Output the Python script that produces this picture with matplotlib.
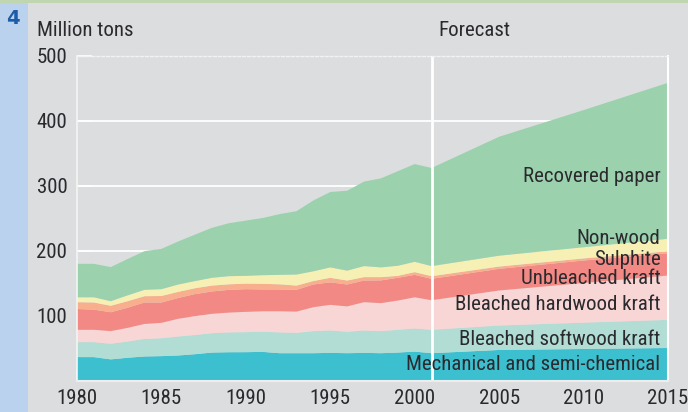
import matplotlib
matplotlib.use("Agg")
import matplotlib.pyplot as plt
from matplotlib.patches import Rectangle

years = [1980, 1981, 1982, 1983, 1984, 1985, 1986, 1987, 1988, 1989, 1990,
         1991, 1992, 1993, 1994, 1995, 1996, 1997, 1998, 1999, 2000, 2001,
         2005, 2010, 2015]

mechanical = [36, 36, 32.5, 35, 37, 37.5, 38.5, 40.5, 43, 43.5, 43.6,
              44, 42, 42, 42, 42.5, 42, 42.5, 42, 43, 44.5, 42,
              47, 48.5, 50]
softwood = [23, 23, 24, 25, 27, 27.5, 29.2, 29.5, 29.8, 30.5, 30.8,
            31, 32, 31.3, 34, 34.5, 33, 34.5, 34, 35, 35.5, 36,
            37.6, 40.5, 43.3]
hardwood = [19, 19, 19.5, 21, 23, 23.7, 27.3, 29, 29.8, 30.5, 31.2,
            31.5, 32.5, 32.7, 36.8, 39.4, 39, 43.5, 43, 45, 48, 45.5,
            53.9, 61, 68.2]
unbleached = [32, 31, 29, 31, 33, 31.3, 32, 34, 34.4, 35, 34.9,
              33.5, 33.5, 33.5, 34.9, 34.6, 33.7, 33.3, 35, 35, 34.5, 32.9,
              33.3, 34.6, 34.3]
sulphite = [10.5, 11, 10, 10, 9.7, 10, 9.4, 9, 9, 8.5, 8.5,
            8.7, 8, 6.5, 5.3, 7, 6.1, 5.2, 5, 3, 4.2, 4.1,
            3.5, 3.2, 3]
nonwood = [7.5, 8, 7, 9, 9.8, 10.5, 11.3, 11, 12, 12.5, 12,
           13.3, 14.5, 17, 15, 16, 15.2, 17, 15, 15.5, 15.9, 15.5,
           16.7, 17.2, 19.2]
recovered = [51.5, 51.5, 52.5, 56, 59.5, 62, 66.3, 71.5, 77, 81.5, 85,
             88, 93.5, 97.5, 109, 116, 123, 130, 137, 145.5, 150.4, 151,
             183, 211, 240]

series_labels = ["Mechanical and semi-chemical", "Bleached softwood kraft",
                 "Bleached hardwood kraft", "Unbleached kraft", "Sulphite",
                 "Non-wood", "Recovered paper"]
label_y = [15.4, 55, 108, 149, 178, 210, 305]
colors = ["#3CC0CF", "#B1DDD5", "#F8D6D5", "#F38985", "#F8AF8E", "#F7F0B4", "#9BD2AD"]

y_ticks = [100, 200, 300, 400, 500]
x_major = [1980, 1985, 1990, 1995, 2000, 2005, 2010, 2015]
forecast_year = 2001

FONT = ["Liberation Sans Narrow", "Roboto Condensed", "DejaVu Sans"]
plt.rcParams["font.family"] = FONT
TXT = "#2A2A2E"
BG = "#DCDDDF"
FS = 15

fig = plt.figure(figsize=(6.88, 4.12), dpi=100, facecolor=BG)
fig.patches.append(Rectangle((0, 0), 28 / 688, 1, transform=fig.transFigure,
                             facecolor="#BBD2EE", edgecolor="none", zorder=0))
fig.patches.append(Rectangle((0, 1 - 3 / 412), 1, 3 / 412, transform=fig.transFigure,
                             facecolor="#BFD6B0", edgecolor="none", zorder=0))
fig.text(13 / 688, 1 - 19 / 412, "4", color="#1D5CA8", fontsize=14,
         fontweight="bold", ha="center", va="center", family=["DejaVu Sans"])

ax = fig.add_axes([77 / 688, 1 - 380.5 / 412, 591 / 688, 325 / 412])
ax.set_facecolor(BG)

ax.stackplot(years, mechanical, softwood, hardwood, unbleached, sulphite,
             nonwood, recovered, colors=colors, linewidth=0, zorder=2)

ax.set_xlim(1980, 2015)
ax.set_ylim(0, 500)

for v in y_ticks[:-1]:
    ax.axhline(v, color="white", lw=1.3, zorder=1)
ax.axvline(forecast_year, color="white", lw=2, zorder=4)

ax.set_yticks(y_ticks)
ax.set_yticklabels([str(v) for v in y_ticks])
ax.set_xticks(x_major)
ax.set_xticklabels([str(v) for v in x_major])
ax.set_xticks(range(1980, 2016), minor=True)
ax.tick_params(axis="y", direction="in", length=11, width=1.3, color="white",
               pad=7, labelsize=FS, labelcolor=TXT)
ax.tick_params(axis="x", which="major", direction="in", length=8, width=1.3,
               color="white", pad=6, labelsize=FS, labelcolor=TXT)
ax.tick_params(axis="x", which="minor", direction="in", length=3.5, width=1.1,
               color="white")
for t in ax.get_xticklines() + ax.get_yticklines() + ax.xaxis.get_minorticklines():
    t.set_zorder(5)

ax.spines["top"].set_color("#F2F2F2")
ax.spines["top"].set_linestyle((0, (2, 1.5)))
ax.spines["top"].set_linewidth(1)
ax.spines["right"].set_color("white")
ax.spines["right"].set_linewidth(1.5)
ax.spines["left"].set_color("#F4F4F4")
ax.spines["left"].set_linewidth(1.2)
ax.spines["bottom"].set_color("#EDEDED")
ax.spines["bottom"].set_linewidth(1.5)
for s in ax.spines.values():
    s.set_zorder(6)

for lab, yv in zip(series_labels, label_y):
    ax.text(2014.55, yv, lab, ha="right", va="baseline", fontsize=FS,
            color=TXT, zorder=7)

fig.text(37 / 688, 1 - 31 / 412, "Million tons", fontsize=FS, color=TXT,
         ha="left", va="center")
fig.text(438 / 688, 1 - 31 / 412, "Forecast", fontsize=FS, color=TXT,
         ha="left", va="center")

fig.savefig("out.png", dpi=100, facecolor=BG)
